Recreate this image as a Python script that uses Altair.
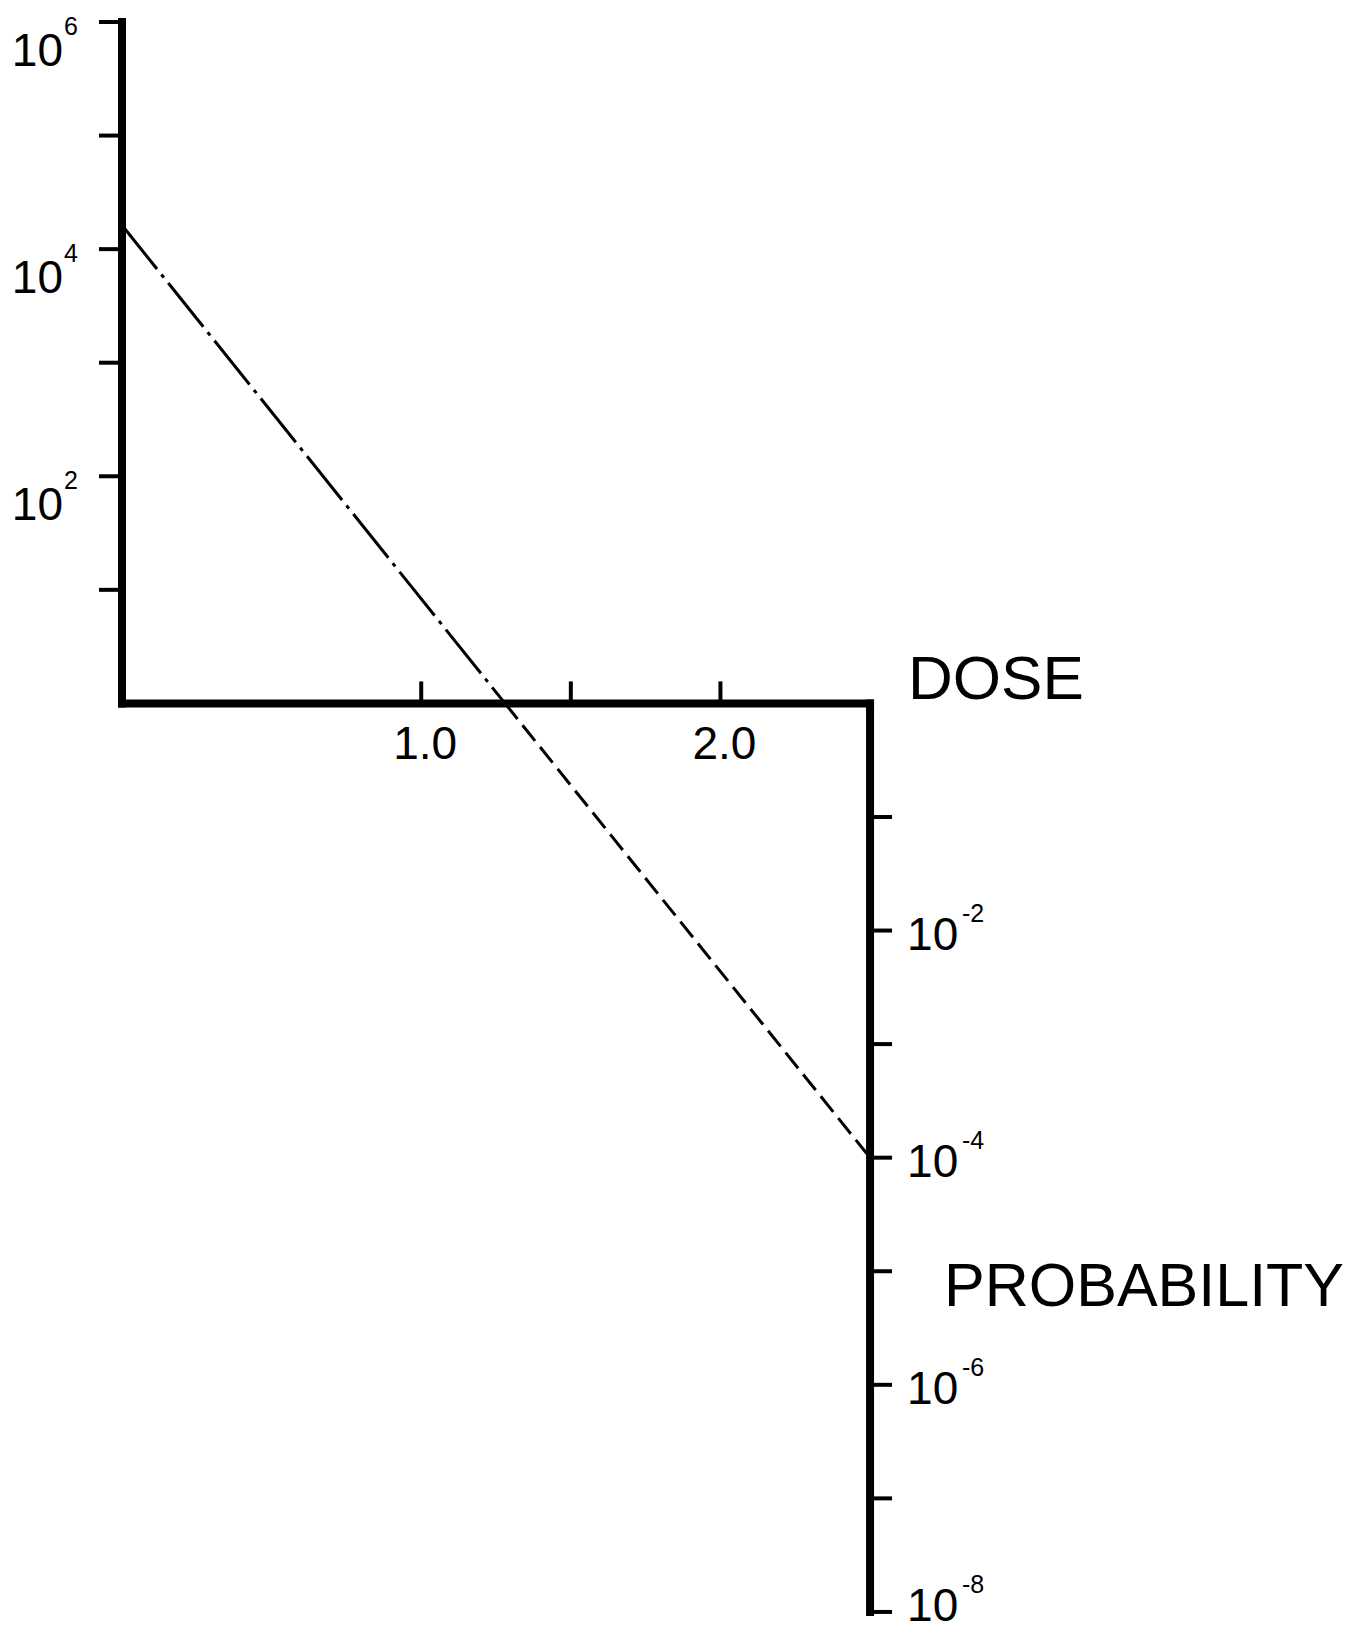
import altair as alt
import pandas as pd

# ---- values ----
# log10 of the quantity on the vertical scale (upper part: >1, lower part: probability)
left_tick_exp = [1, 2, 3, 4, 5, 6]
left_label_exp = [6, 4, 2]
left_label_sup = ["6", "4", "2"]

dose_tick_vals = [1.0, 1.5, 2.0]
dose_label_vals = [1.0, 2.0]
dose_label_text = ["1.0", "2.0"]

right_tick_exp = [-1, -2, -3, -4, -5, -6, -7, -8]
right_label_exp = [-2, -4, -6, -8]
right_label_sup = ["-2", "-4", "-6", "-8"]

# axis frame segments (dose, log10 value)
axis_x = [0.0, 0.0, 2.5]
axis_x2 = [0.0, 2.5, 2.5]
axis_y = [0.0, 0.0, 0.0]
axis_y2 = [6.0, 0.0, -8.0]

# the line: dash-dot above the dose axis, dashed below
upper_dose = [0.0, 1.28]
upper_log = [4.21, 0.0]
lower_dose = [1.28, 2.5]
lower_log = [0.0, -4.0]

FONT = "Liberation Sans"
W, H = 1339, 1627
xs = alt.Scale(domain=[-0.381, 4.094], nice=False, zero=False)
ys = alt.Scale(domain=[-8.203, 6.1233], nice=False, zero=False)


def X(f):
    return alt.X(f, type="quantitative", scale=xs, axis=None)


def Y(f):
    return alt.Y(f, type="quantitative", scale=ys, axis=None)


axes_df = pd.DataFrame({"x": axis_x, "x2": axis_x2, "y": axis_y, "y2": axis_y2})
axes = alt.Chart(axes_df).mark_rule(color="black", strokeWidth=8, strokeCap="square").encode(
    x=X("x"), x2="x2", y=Y("y"), y2="y2"
)

lt_df = pd.DataFrame({"x": [0.0] * len(left_tick_exp), "y": left_tick_exp})
left_ticks = alt.Chart(lt_df).mark_tick(
    orient="horizontal", size=23, thickness=4, xOffset=-11.5, color="black", opacity=1
).encode(x=X("x"), y=Y("y"))

dt_df = pd.DataFrame({"x": dose_tick_vals, "y": [0.0] * len(dose_tick_vals)})
dose_ticks = alt.Chart(dt_df).mark_tick(
    orient="vertical", size=22, thickness=4, yOffset=-11, color="black", opacity=1
).encode(x=X("x"), y=Y("y"))

rt_df = pd.DataFrame({"x": [2.5] * len(right_tick_exp), "y": right_tick_exp})
right_ticks = alt.Chart(rt_df).mark_tick(
    orient="horizontal", size=22, thickness=4, xOffset=11, color="black", opacity=1
).encode(x=X("x"), y=Y("y"))

up_df = pd.DataFrame({"x": upper_dose, "y": upper_log})
upper_line = alt.Chart(up_df).mark_line(
    color="black", strokeWidth=3, strokeDash=[56, 7, 4, 7]
).encode(x=X("x"), y=Y("y"))

lo_df = pd.DataFrame({"x": lower_dose, "y": lower_log})
lower_line = alt.Chart(lo_df).mark_line(
    color="black", strokeWidth=3, strokeDash=[20, 8]
).encode(x=X("x"), y=Y("y"))

ll_df = pd.DataFrame({"x": [0.0] * 3, "y": left_label_exp, "main": ["10"] * 3, "sup": left_label_sup})
left_main = alt.Chart(ll_df).mark_text(
    font=FONT, fontSize=46, align="right", baseline="alphabetic", dx=-59, dy=44, color="black"
).encode(x=X("x"), y=Y("y"), text="main:N")
left_sup = alt.Chart(ll_df).mark_text(
    font=FONT, fontSize=25, align="left", baseline="alphabetic", dx=-58, dy=13, color="black"
).encode(x=X("x"), y=Y("y"), text="sup:N")

dl_df = pd.DataFrame({"x": dose_label_vals, "y": [0.0] * 2, "t": dose_label_text})
dose_labels = alt.Chart(dl_df).mark_text(
    font=FONT, fontSize=46, align="center", baseline="alphabetic", dx=4, dy=56, color="black"
).encode(x=X("x"), y=Y("y"), text="t:N")

rl_df = pd.DataFrame({"x": [2.5] * 4, "y": right_label_exp, "main": ["10"] * 4, "sup": right_label_sup})
rl_base = alt.Chart(rl_df)
right_main = rl_base.transform_filter("datum.y > -8").mark_text(
    font=FONT, fontSize=46, align="left", baseline="alphabetic", dx=37, dy=19, color="black"
).encode(x=X("x"), y=Y("y"), text="main:N")
right_sup = rl_base.transform_filter("datum.y > -8").mark_text(
    font=FONT, fontSize=25, align="left", baseline="alphabetic", dx=92, dy=-9, color="black"
).encode(x=X("x"), y=Y("y"), text="sup:N")
# bottom label sits at the lower edge of the page: keep it just inside
bottom_main = rl_base.transform_filter("datum.y <= -8").mark_text(
    font=FONT, fontSize=46, align="left", baseline="alphabetic", dx=37, dy=9, color="black"
).encode(x=X("x"), y=Y("y"), text="main:N")
bottom_sup = rl_base.transform_filter("datum.y <= -8").mark_text(
    font=FONT, fontSize=25, align="left", baseline="alphabetic", dx=92, dy=-19, color="black"
).encode(x=X("x"), y=Y("y"), text="sup:N")

titles_df = pd.DataFrame({"x": [2.5, 2.5], "y": [0.0, -5.0], "t": ["DOSE", "PROBABILITY"]})
dose_title = alt.Chart(titles_df.iloc[[0]]).mark_text(
    font=FONT, fontSize=62, align="left", baseline="alphabetic", dx=38, dy=-4, color="black"
).encode(x=X("x"), y=Y("y"), text="t:N")
prob_title = alt.Chart(titles_df.iloc[[1]]).mark_text(
    font=FONT, fontSize=61, align="left", baseline="alphabetic", dx=74, dy=35, color="black"
).encode(x=X("x"), y=Y("y"), text="t:N")

chart = alt.layer(
    axes, left_ticks, dose_ticks, right_ticks, upper_line, lower_line,
    left_main, left_sup, dose_labels, right_main, right_sup, bottom_main, bottom_sup,
    dose_title, prob_title
).properties(
    width=W, height=H, padding=0, autosize=alt.AutoSizeParams(type="none"), background="white"
).configure_view(stroke=None)

chart.save("out.html", embed_options={"renderer": "svg", "actions": False})
